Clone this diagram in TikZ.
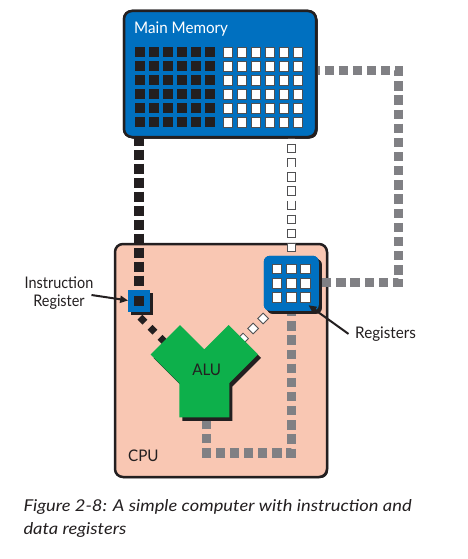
\documentclass[tikz,border=0pt]{standalone}
\usepackage{fontspec}
\setmainfont{Lato}
\usetikzlibrary{arrows.meta,calc,shadows}
\definecolor{memblue}{RGB}{0,112,192}
\definecolor{ink}{RGB}{35,31,32}
\definecolor{cpufill}{RGB}{249,199,179}
\definecolor{alugreen}{RGB}{13,176,75}
\definecolor{busgrey}{RGB}{128,128,132}
\definecolor{sqedge}{RGB}{80,80,82}
\begin{document}
\begin{tikzpicture}[x=1pt,y=-1pt,
  txt/.style={inner sep=0pt, text=ink, font=\fontsize{16}{18}\selectfont\addfontfeatures{FakeStretch=0.95}},
  cpubox/.style={draw=ink, line width=2.5pt, fill=cpufill, rounded corners=8pt,
    minimum width=212pt, minimum height=233pt, inner sep=0pt,
    drop shadow={shadow xshift=1.2pt, shadow yshift=-1.2pt, opacity=1, fill=ink}},
  membox/.style={draw=ink, line width=2.5pt, fill=memblue, rounded corners=8pt,
    minimum width=192pt, minimum height=126pt, inner sep=0pt,
    drop shadow={shadow xshift=1.5pt, shadow yshift=-1.5pt, opacity=1, fill=ink}},
  regbox/.style={fill=memblue, rounded corners=6pt, minimum size=55pt, inner sep=0pt,
    drop shadow={shadow xshift=3pt, shadow yshift=-3pt, opacity=1, fill=ink}},
  iregbox/.style={fill=memblue, minimum size=22pt, inner sep=0pt,
    drop shadow={shadow xshift=3pt, shadow yshift=-3pt, opacity=1, fill=ink}},
  blackcell/.style={fill=ink, minimum size=10pt, inner sep=0pt},
  whitecell/.style={fill=white, draw=sqedge, line width=0.8pt, minimum size=9.2pt, inner sep=0pt},
  blackbus/.style={draw=ink, line width=10pt, dash pattern=on 10pt off 4pt},
  blackdiag/.style={draw=ink, line width=7pt, dash pattern=on 7pt off 7.2pt},
  greybus/.style={draw=busgrey, line width=9.3pt, line join=miter, dash pattern=on 9.3pt off 4.85pt},
  arr/.style={draw=ink, line width=2pt, -{Triangle[length=8pt,width=7pt]}}
]
\fill[white] (0,0) rectangle (467,559);
\useasboundingbox (0,0) rectangle (467,559);

% CPU
\node[cpubox] (cpu) at (221,360.5) {};

% named points for the buses
\coordinate (gA) at (398.7,70.5);
\coordinate (gB) at (398.7,282.75);
\coordinate (gC) at (291.3,453);
\coordinate (gD) at (206.3,453);

\node[regbox] (regs) at (291.3,283.3) {};
\node[iregbox] (ireg) at (139.3,300.5) {};
\node[membox] (mem) at (220,74) {};

% buses
\draw[blackbus, dash phase=2.7pt] (ireg.north |- mem.south) -- (ireg.north);
\draw[draw=sqedge, line width=9.4pt, dash pattern=on 9.4pt off 4.74pt, dash phase=8.44pt]
  (regs.north |- mem.south) -- (regs.north);
\draw[draw=white, line width=7.6pt, dash pattern=on 7.6pt off 6.54pt, dash phase=7.54pt]
  (regs.north |- mem.south) -- (regs.north);
\draw[greybus, dash phase=6.85pt] (mem.east |- gA) -- (gA) -- (gB) -- (regs.east |- gB);
\draw[greybus, dash phase=3.95pt] (regs.south) -- (gC) -- (gD) -- (gD |- 0,412);
\draw[blackdiag] ($(ireg.south)+(0.7,5.5)$) -- ++(45,45);
\draw[draw=sqedge, line width=8.4pt, dash pattern=on 8.4pt off 5.8pt]
  ($(regs.south west)+(2.5,4.5)$) -- ++(-42,42);
\draw[draw=white, line width=6.4pt, dash pattern=on 6.4pt off 7.8pt, dash phase=13.2pt]
  ($(regs.south west)+(2.5,4.5)$) -- ++(-42,42);

% boxes on top of bus ends
\node[membox] (mem) at (220,74) {};
\node[regbox] (regs) at (291.3,283.3) {};
\node[iregbox] (ireg) at (139.3,300.5) {};
\node[blackcell] (iregcell) at (ireg.center) {};

% memory cells
\foreach \r in {0,...,5}{
  \foreach \c in {0,...,5}{
    \node[blackcell] (mb\r\c) at (140+14*\c, 52.5+14*\r) {};
    \node[whitecell] (mw\r\c) at (228+14*\c, 52.5+14*\r) {};
  }
}
% register cells
\foreach \r in {0,1,2}{
  \foreach \c in {0,1,2}{
    \node[whitecell, minimum size=9.5pt] (rc\r\c) at (277.1+14.2*\c, 268.9+14.3*\r) {};
  }
}

% ALU
\fill[ink, shift={(3,3.5)}] (180,325) -- (204.3,349.3) -- (228.6,325) -- (258,354.4)
  -- (229.3,383.1) -- (229.3,417.3) -- (179.3,417.3) -- (179.3,383.1) -- (150.6,354.4) -- cycle;
\fill[alugreen] (180,325) -- (204.3,349.3) -- (228.6,325) -- (258,354.4)
  -- (229.3,383.1) -- (229.3,417.3) -- (179.3,417.3) -- (179.3,383.1) -- (150.6,354.4) -- cycle;
\node[txt, anchor=base] (alu) at (206.7,375) {ALU};

% labels
\node[txt, anchor=base west, text=white] (memlabel) at (134,34) {Main Memory};
\node[txt, anchor=base west] (cpulabel) at (128,461.7) {CPU};
\node[txt, align=center, font=\fontsize{16}{17.7}\selectfont\addfontfeatures{FakeStretch=0.9}]
  (irlabel) at (59,293) {Instruction\\Register};
\node[txt, anchor=base west] (reglabel) at (355,338.3) {Registers};

\draw[arr] ($(irlabel.east)+(-2,2)$) -- (ireg.west);
\draw[arr] ($(reglabel.west)+(-6.5,0)$) -- ($(regs.south east)+(-10.5,-5.8)$);

% caption
\node[txt, anchor=north west, align=left,
  font=\itshape\fontsize{16.3}{23.4}\selectfont\addfontfeatures{FakeStretch=1.125}]
  (caption) at (23.3,499) {Figure 2-8: A simple computer with instruction and\\data registers};
\end{tikzpicture}
\end{document}
